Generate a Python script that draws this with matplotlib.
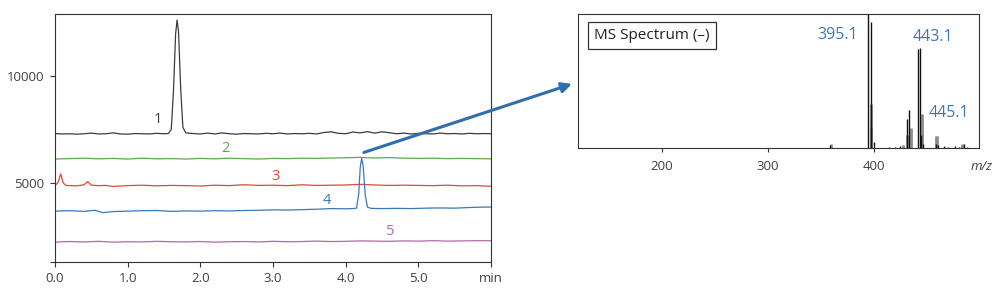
import matplotlib
matplotlib.use("Agg")
from matplotlib import pyplot as plt
from matplotlib.patches import ConnectionPatch

plt.rcParams['font.family'] = ['Open Sans', 'DejaVu Sans']

# chromatogram traces (time in min, intensity)
t1 = [0.0, 0.1, 0.2, 0.3, 0.4, 0.5, 0.6, 0.7, 0.8, 0.9, 1.0, 1.1, 1.2, 1.3, 1.4, 1.5,
      1.56, 1.6, 1.63, 1.66, 1.68, 1.70, 1.73, 1.76, 1.8,
      1.9, 2.0, 2.1, 2.2, 2.3, 2.4, 2.5, 2.6, 2.7, 2.8, 2.9, 3.0, 3.1, 3.2, 3.3, 3.4,
      3.5, 3.6, 3.7, 3.8, 3.9, 4.0, 4.1, 4.2, 4.3, 4.4, 4.5, 4.6, 4.7, 4.8, 4.9, 5.0,
      5.1, 5.2, 5.3, 5.4, 5.5, 5.6, 5.7, 5.8, 5.9, 6.0]
y1 = [7310, 7290, 7300, 7280, 7300, 7330, 7290, 7300, 7340, 7290, 7280, 7310, 7300, 7290, 7320, 7300,
      7310, 7500, 9300, 12000, 12650, 12100, 9400, 7600, 7340,
      7310, 7290, 7330, 7290, 7340, 7300, 7280, 7310, 7300, 7290, 7320, 7300, 7330, 7290, 7310, 7300,
      7320, 7290, 7360, 7390, 7320, 7300, 7380, 7340, 7400, 7330, 7390, 7350, 7300, 7330, 7290, 7320,
      7300, 7290, 7330, 7300, 7310, 7290, 7320, 7300, 7310, 7300]

t2 = [0.0, 0.2, 0.4, 0.6, 0.8, 1.0, 1.2, 1.4, 1.6, 1.8, 2.0, 2.2, 2.4, 2.6, 2.8, 3.0,
      3.2, 3.4, 3.6, 3.8, 4.0, 4.2, 4.4, 4.6, 4.8, 5.0, 5.2, 5.4, 5.6, 5.8, 6.0]
y2 = [6110, 6130, 6150, 6120, 6140, 6110, 6150, 6120, 6130, 6110, 6140, 6120, 6150, 6130, 6110, 6140,
      6130, 6150, 6140, 6160, 6170, 6190, 6160, 6180, 6150, 6140, 6150, 6130, 6140, 6130, 6120]

t3 = [0.0, 0.04, 0.08, 0.11, 0.15, 0.2, 0.3, 0.4, 0.45, 0.5, 0.6, 0.7, 0.8, 1.0, 1.2, 1.4,
      1.6, 1.8, 2.0, 2.2, 2.4, 2.6, 2.8, 3.0, 3.2, 3.4, 3.6, 3.8, 4.0, 4.2, 4.4, 4.6,
      4.8, 5.0, 5.2, 5.4, 5.6, 5.8, 6.0]
y3 = [4860, 5000, 5410, 5000, 4870, 4860, 4850, 4900, 5050, 4880, 4860, 4870, 4820, 4860, 4880, 4850,
      4870, 4860, 4840, 4880, 4860, 4900, 4870, 4880, 4860, 4900, 4870, 4880, 4890, 4920, 4890, 4870,
      4880, 4870, 4860, 4880, 4850, 4860, 4830]

t4 = [0.0, 0.2, 0.4, 0.55, 0.66, 0.8, 1.0, 1.2, 1.4, 1.6, 1.8, 2.0, 2.2, 2.4, 2.6, 2.8,
      3.0, 3.2, 3.4, 3.6, 3.8, 4.0, 4.1, 4.15, 4.18, 4.20, 4.22, 4.24, 4.27, 4.30, 4.35, 4.5,
      4.7, 4.9, 5.1, 5.3, 5.5, 5.7, 5.9, 6.0]
y4 = [3660, 3680, 3650, 3700, 3590, 3640, 3660, 3680, 3690, 3650, 3670, 3660, 3680, 3670, 3690, 3700,
      3720, 3710, 3730, 3750, 3780, 3770, 3780, 3800, 4500, 5700, 6150, 5800, 4400, 3850, 3790, 3780,
      3790, 3780, 3800, 3810, 3800, 3830, 3850, 3850]

t5 = [0.0, 0.2, 0.4, 0.6, 0.8, 1.0, 1.2, 1.4, 1.6, 1.8, 2.0, 2.2, 2.4, 2.6, 2.8, 3.0,
      3.2, 3.4, 3.6, 3.8, 4.0, 4.2, 4.4, 4.6, 4.8, 5.0, 5.2, 5.4, 5.6, 5.8, 6.0]
y5 = [2200, 2230, 2210, 2240, 2200, 2220, 2210, 2240, 2220, 2210, 2230, 2200, 2220, 2230, 2210, 2240,
      2220, 2230, 2250, 2230, 2240, 2260, 2250, 2240, 2260, 2250, 2270, 2250, 2260, 2270, 2270]

traces = [(t1, y1), (t2, y2), (t3, y3), (t4, y4), (t5, y5)]
trace_colors = ['#3c3c3c', '#5fa84a', '#e0473a', '#3b78b8', '#b06aae']
label_text = ['1', '2', '3', '4', '5']
label_t = [1.42, 2.35, 3.03, 3.74, 4.62]
label_y = [7950, 6620, 5300, 4170, 2700]

# MS spectrum (m/z, relative intensity); gray = profile, black = centroid
ms_gray_mz = [359.5, 397.6, 431.0, 435.0, 445.4, 458.5, 459.6, 427.0, 483.0]
ms_gray_h = [0.03, 0.33, 0.10, 0.15, 0.25, 0.09, 0.09, 0.02, 0.03]
ms_black_mz = [359.0, 397.0, 397.3, 400.0, 431.1, 433.0, 441.5, 443.4, 443.9, 446.0,
               458.0, 460.5, 466.0, 470.0, 476.0, 480.0, 484.5, 488.0, 414.0, 420.0, 425.0]
ms_black_h = [0.02, 0.94, 0.16, 0.045, 0.22, 0.28, 0.74, 0.75, 0.10, 0.03,
              0.03, 0.02, 0.015, 0.01, 0.015, 0.01, 0.03, 0.01, 0.01, 0.01, 0.015]
ms_cursor = 394.0
ms_ticks = [200, 300, 400]
ms_labels = ['395.1', '443.1', '445.1']

fig = plt.figure(figsize=(10, 2.93), dpi=100)

# left: chromatograms
ax = fig.add_axes([0.055, 0.106, 0.436, 0.846])
for (t, y), c in zip(traces, trace_colors):
    ax.plot(t, y, color=c, lw=0.9)
for txt, tx, ty, c in zip(label_text, label_t, label_y, trace_colors):
    ax.text(tx, ty, txt, color=c, fontsize=10.5, ha='center', va='center')

ymin = 1270
ax.set_xlim(0, 6.0)
ax.set_ylim(ymin, 12930)
ax.set_xticks([0, 1, 2, 3, 4, 5, 6])
ax.set_xticklabels(['0.0', '1.0', '2.0', '3.0', '4.0', '5.0', 'min'])
ax.set_yticks([ymin, 5000, 10000])
ax.set_yticklabels(['', '5000', '10000'])
ax.tick_params(axis='both', direction='out', length=3.5, width=0.8,
               labelsize=9.5, labelcolor='#404040', color='#333333', pad=4)
for s in ax.spines.values():
    s.set_linewidth(0.8)
    s.set_color('#333333')

# right: MS spectrum
ax2 = fig.add_axes([0.578, 0.495, 0.401, 0.457])
ax2.vlines(ms_gray_mz, 0, ms_gray_h, color='#8c8c8c', lw=2.0)
ax2.vlines(ms_black_mz, 0, ms_black_h, color='#111111', lw=1.0)
ax2.axvline(ms_cursor, color='#111111', lw=1.0)
ax2.set_xlim(121, 499)
ax2.set_ylim(0, 1.0)
ax2.set_yticks([])
ax2.set_xticks(ms_ticks)
ax2.tick_params(axis='x', direction='out', length=3, width=0.8,
                labelsize=9.5, labelcolor='#404040', color='#333333', pad=6)
for s in ax2.spines.values():
    s.set_linewidth(0.8)
    s.set_color('#333333')

ax2.text(0.04, 0.84, 'MS Spectrum (\u2013)', transform=ax2.transAxes, fontsize=11,
         color='#222222', va='center', ha='left',
         bbox=dict(boxstyle='square,pad=0.4', fc='white', ec='#333333', lw=0.9))
ms_blue = '#3b78b8'
ax2.text(0.697, 0.84, ms_labels[0], transform=ax2.transAxes, fontsize=11.5,
         color=ms_blue, ha='right', va='center')
ax2.text(0.885, 0.83, ms_labels[1], transform=ax2.transAxes, fontsize=11.5,
         color=ms_blue, ha='center', va='center')
ax2.text(0.975, 0.26, ms_labels[2], transform=ax2.transAxes, fontsize=11.5,
         color=ms_blue, ha='right', va='center')
ax2.text(0.978, -0.14, 'm/z', transform=ax2.transAxes, fontsize=9.5,
         color='#404040', style='italic', ha='left', va='center')

# arrow from peak 4 to spectrum
con = ConnectionPatch(xyA=(4.25, 6420), coordsA=ax.transData,
                      xyB=(-0.015, 0.478), coordsB=ax2.transAxes,
                      arrowstyle='-|>,head_length=0.6,head_width=0.3',
                      color='#2f6fad', lw=2.2)
fig.add_artist(con)

fig.savefig('out.png', dpi=100)
